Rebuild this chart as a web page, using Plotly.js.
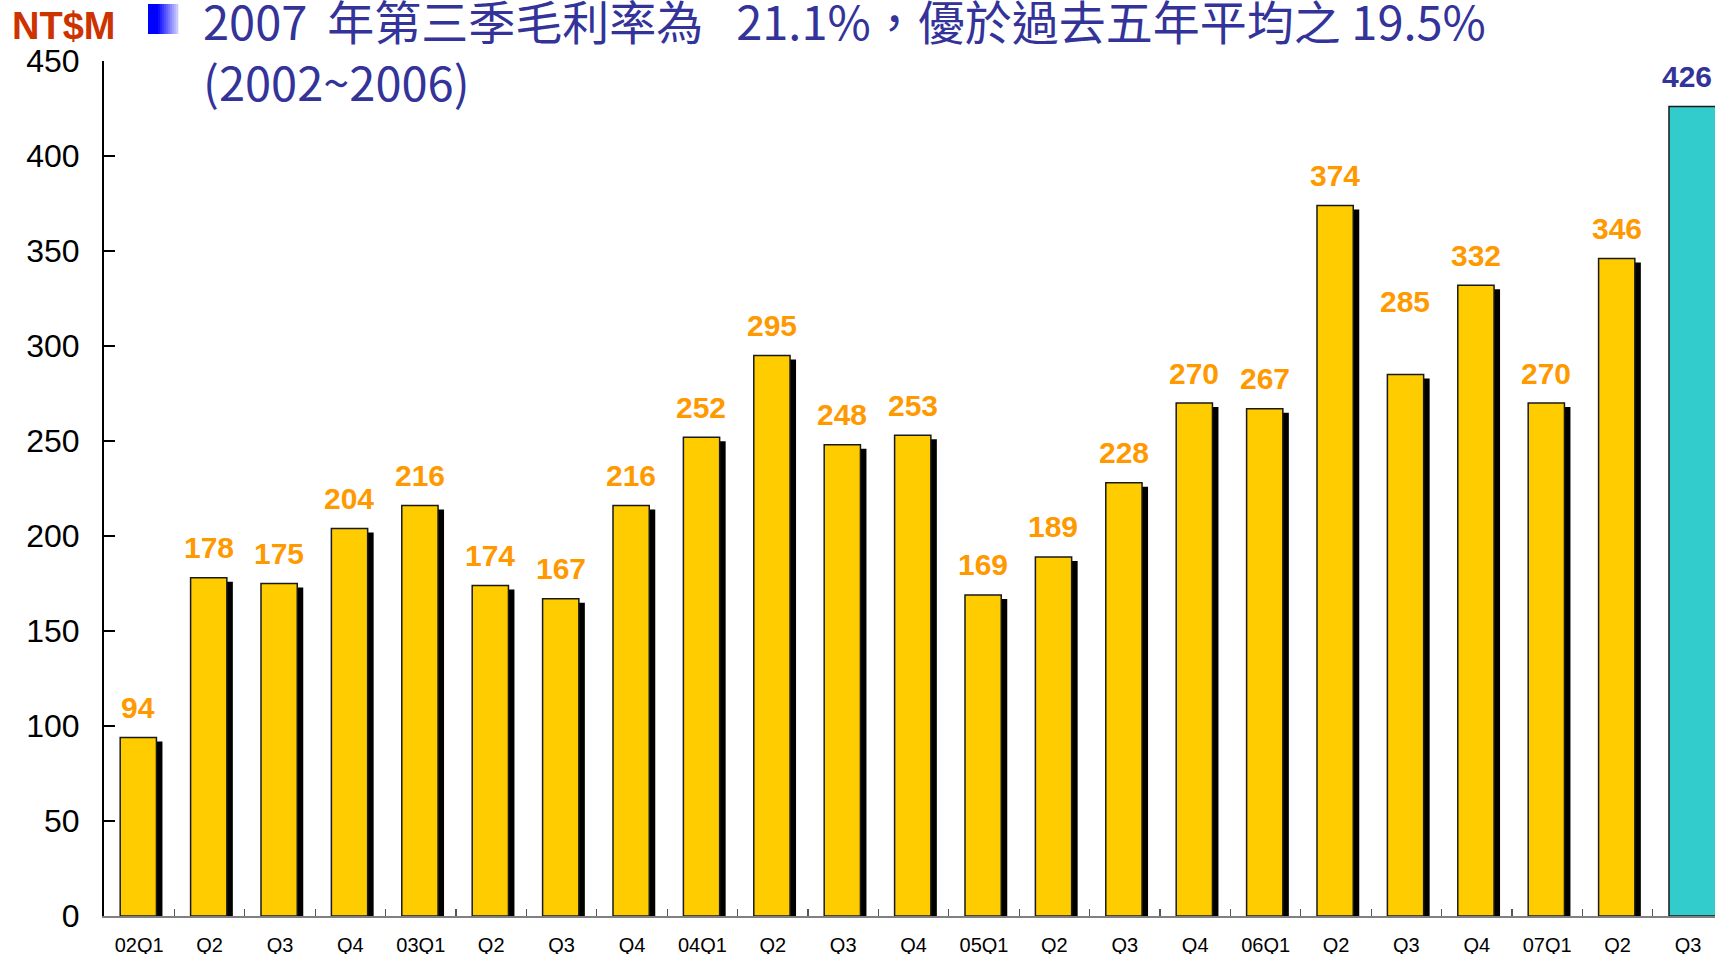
<!DOCTYPE html>
<html>
<head>
<meta charset="utf-8">
<script src="https://cdn.plot.ly/plotly-3.0.1.min.js"></script>
<style>
  html, body { margin: 0; padding: 0; background: #ffffff; }
  #chart { width: 1715px; height: 954px; }
</style>
</head>
<body>
<div id="chart"></div>
<script>
// ---- data ----
const categories = ['02Q1','Q2','Q3','Q4','03Q1','Q2','Q3','Q4','04Q1','Q2','Q3','Q4',
                    '05Q1','Q2','Q3','Q4','06Q1','Q2','Q3','Q4','07Q1','Q2','Q3'];
const grossProfit = [94,178,175,204,216,174,167,216,252,295,248,253,
                     169,189,228,270,267,374,285,332,270,346,426];
const yTicks = [0,50,100,150,200,250,300,350,400,450];
const titleLine1 = '2007 \u2009年第三季毛利率為\u2002\u200921.1%，優於過去五年平均之 19.5%';
const titleLine2 = '(2002~2006)';
const unitLabel = 'NT$M';

// ---- layout constants (pixels) ----
const W = 1715, H = 954;
const L = 104, T = 61, B = 38;
const plotW = W - L;
const catPx = 70.4;                 // pixels per category
const xMax = -0.5 + plotW / catPx;
const pxPerUnit = (H - T - B) / 450;

const last = categories.length - 1;
const xs = categories.map((_, i) => i);
const barW = 0.515, barOff = -0.27;
const widths = xs.map(i => i === last ? 0.9 : barW);
const offsets = xs.map(() => barOff);
const shadowDx = 6 / catPx;
const shadowDy = 4 / pxPerUnit;

const yellow = '#FFCC00', cyan = '#33CCCC';
const orange = '#FF9900', navy = '#333399';

const shadow = {
  type: 'bar', x: xs, y: grossProfit,
  base: xs.map(() => -shadowDy),
  width: widths, offset: offsets.map(o => o + shadowDx),
  marker: { color: '#000000', line: { width: 0 } },
  hoverinfo: 'skip', showlegend: false
};
const bars = {
  type: 'bar', x: xs, y: grossProfit,
  width: widths, offset: offsets,
  marker: { color: xs.map(i => i === last ? cyan : yellow),
            line: { color: '#1a1a1a', width: 1.5 } },
  hoverinfo: 'skip', showlegend: false
};

const annotations = grossProfit.map((v, i) => ({
  x: i, y: v, xref: 'x', yref: 'y',
  text: String(v), showarrow: false,
  xanchor: 'center', yanchor: 'middle',
  xshift: -1, yshift: (i === 18 ? 73 : 30),
  font: { family: 'Liberation Sans, Arial, sans-serif', size: 30,
          color: i === last ? navy : orange, weight: 'bold' }
}));

// unit label
annotations.push({
  xref: 'paper', yref: 'paper', x: (10 - L) / plotW, y: (H - B - 26) / (H - T - B),
  xanchor: 'left', yanchor: 'middle', showarrow: false,
  text: '<b>' + unitLabel + '</b>',
  font: { family: 'Liberation Sans, Arial, sans-serif', size: 38, color: '#CC3300' }
});
// title (two lines)
const titleFont = { family: '"Noto Sans CJK TC", "Noto Sans CJK SC", sans-serif', size: 47, color: navy };
annotations.push({
  xref: 'paper', yref: 'paper', x: (201 - L) / plotW, y: (H - B - 50) / (H - T - B),
  xanchor: 'left', yanchor: 'middle', align: 'left', showarrow: false,
  text: titleLine1 + '<br>' + titleLine2, font: titleFont
});

// gradient bullet square (148,4)-(178,34)
const shapes = [];
const nStrips = 15;
for (let k = 0; k < nStrips; k++) {
  const t = k / (nStrips - 1);
  const f = Math.max(0, (t - 0.3) / 0.7);
  const c = Math.round(200 * f);
  shapes.push({
    type: 'rect', xref: 'paper', yref: 'paper',
    xsizemode: 'pixel', ysizemode: 'pixel', xanchor: 0, yanchor: 1,
    x0: 148 - L + k * 2, x1: 148 - L + (k + 1) * 2 + 0.3,
    y0: T - 4, y1: T - 34,
    fillcolor: `rgb(${c},${c},255)`, line: { width: 0 }, layer: 'above'
  });
}

const layout = {
  width: W, height: H,
  margin: { l: L, r: 0, t: T, b: B, pad: 0 },
  paper_bgcolor: '#ffffff', plot_bgcolor: '#ffffff',
  barmode: 'overlay', showlegend: false,
  xaxis: {
    range: [-0.5, xMax], fixedrange: true,
    tickmode: 'array', tickvals: xs, ticktext: categories,
    ticks: '', showgrid: false, zeroline: false,
    showline: true, linecolor: '#808080', linewidth: 1.5,
    tickfont: { family: 'Liberation Sans, Arial, sans-serif', size: 20, color: '#000000' },
    ticklabelstandoff: 10,
    minor: { tickmode: 'array', tickvals: xs.slice(0, -1).map(i => i + 0.5),
             ticks: 'inside', ticklen: 7, tickwidth: 1.2, tickcolor: '#555555', showgrid: false }
  },
  yaxis: {
    range: [0, 450], fixedrange: true,
    tickmode: 'array', tickvals: yTicks,
    ticks: 'inside', ticklen: 11, tickwidth: 1.5, tickcolor: '#000000',
    showgrid: false, zeroline: false,
    showline: true, linecolor: '#000000', linewidth: 2,
    tickfont: { family: 'Liberation Sans, Arial, sans-serif', size: 32, color: '#000000' },
    ticklabelstandoff: 16
  },
  annotations: annotations,
  shapes: shapes
};

Plotly.newPlot('chart', [shadow, bars], layout, { staticPlot: true, displayModeBar: false });
</script>
</body>
</html>
